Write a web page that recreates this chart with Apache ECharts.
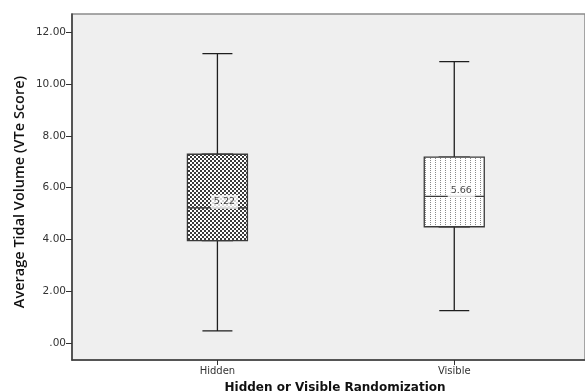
<!DOCTYPE html>
<html>
<head>
<meta charset="utf-8">
<script src="https://cdn.jsdelivr.net/npm/echarts@6/dist/echarts.min.js"></script>
<style>html,body{margin:0;padding:0;background:#fff;}#c{width:585px;height:392px;}</style>
</head>
<body>
<div id="c"></div>
<script>
var categories = ['Hidden', 'Visible'];
var positions = [1, 2];
var mins = [0.47, 1.25];
var q1s = [3.95, 4.49];
var medians = [5.22, 5.66];
var q3s = [7.29, 7.18];
var maxs = [11.18, 10.87];
var yTicks = [0, 2, 4, 6, 8, 10, 12];

function makePattern(w, h, draw) {
  var c = document.createElement('canvas');
  c.width = w; c.height = h;
  var ctx = c.getContext('2d');
  draw(ctx);
  return { image: c, repeat: 'repeat' };
}
var checker = makePattern(4, 4, function (ctx) {
  ctx.fillStyle = '#3a3a3a'; ctx.fillRect(0, 0, 4, 4);
  ctx.fillStyle = '#ffffff'; ctx.fillRect(0, 0, 2, 2); ctx.fillRect(2, 2, 2, 2);
});
var dotted = makePattern(5, 2, function (ctx) {
  ctx.fillStyle = '#ffffff'; ctx.fillRect(0, 0, 5, 2);
  ctx.fillStyle = '#8a8a8a'; ctx.fillRect(0, 0, 1, 1);
});
var fills = [checker, dotted];

// whiskers (narrow caps) drawn underneath; box drawn on top with opaque fill
var whiskerData = categories.map(function (c, i) {
  return { name: c, value: [positions[i], mins[i], q1s[i], medians[i], q3s[i], maxs[i]] };
});
var boxData = categories.map(function (c, i) {
  return { name: c, value: [positions[i], q1s[i], q1s[i], medians[i], q3s[i], q3s[i]], itemStyle: { color: fills[i] } };
});
var labelData = categories.map(function (c, i) { return [positions[i], medians[i]]; });

var X_MIN = 0.386, X_MAX = 2.552;
var chart = echarts.init(document.getElementById('c'), null, { renderer: 'canvas' });
chart.setOption({
  animation: false,
  backgroundColor: '#ffffff',
  grid: { left: 72, top: 14, right: 0, bottom: 32, show: true, backgroundColor: '#efefef', borderColor: '#8c8c8c', borderWidth: 1.5 },
  xAxis: [{
    type: 'value', min: X_MIN, max: X_MAX,
    splitLine: { show: false },
    axisLine: { show: true, onZero: false, lineStyle: { color: '#3a3a3a', width: 1.5 } },
    axisTick: { show: true, length: 5, customValues: positions, lineStyle: { color: '#333' } },
    axisLabel: {
      customValues: positions, margin: 6,
      formatter: function (v) { var i = positions.indexOf(Math.round(v)); return i >= 0 ? categories[i] : ''; },
      fontFamily: 'DejaVu Sans', fontSize: 10, color: '#333'
    }
  }, {
    type: 'value', min: X_MIN, max: X_MAX, show: false, splitLine: { show: false }
  }],
  yAxis: {
    type: 'value', min: -0.657, max: 12.707,
    splitLine: { show: false },
    axisLine: { show: true, onZero: false, lineStyle: { color: '#3a3a3a', width: 1.5 } },
    axisTick: { show: true, length: 6, customValues: yTicks, lineStyle: { color: '#333' } },
    axisLabel: {
      customValues: yTicks, margin: 6,
      formatter: function (v) { return v === 0 ? '.00' : v.toFixed(2); },
      fontFamily: 'DejaVu Sans', fontSize: 10.5, color: '#333'
    }
  },
  series: [
    {
      type: 'boxplot',
      xAxisIndex: 0,
      boxWidth: [30, 30],
      z: 2,
      itemStyle: { color: '#ffffff', borderColor: '#1e1e1e', borderWidth: 1.3 },
      data: whiskerData
    },
    {
      type: 'boxplot',
      xAxisIndex: 1,
      boxWidth: [60, 60],
      z: 3,
      itemStyle: { borderColor: '#3a3a3a', borderWidth: 1.3 },
      data: boxData
    },
    {
      type: 'scatter',
      xAxisIndex: 1,
      symbolSize: 0,
      z: 4,
      data: labelData,
      label: {
        show: true, position: 'inside', offset: [7, -6],
        formatter: function (p) { return p.value[1].toFixed(2); },
        backgroundColor: '#ffffff', padding: [2, 3],
        fontFamily: 'DejaVu Sans', fontSize: 9.5, color: '#111'
      }
    }
  ],
  graphic: [
    { type: 'text', x: 20, y: 192, rotation: Math.PI / 2, style: { text: 'Average Tidal Volume (VTe Score)', textAlign: 'center', textVerticalAlign: 'middle', font: '600 14.5px "Open Sans"', fill: '#111' } },
    { type: 'text', x: 335, y: 394, style: { text: 'Hidden or Visible Randomization', textAlign: 'center', textVerticalAlign: 'bottom', font: 'bold 12px "DejaVu Sans"', fill: '#111' } }
  ]
});
</script>
</body>
</html>
